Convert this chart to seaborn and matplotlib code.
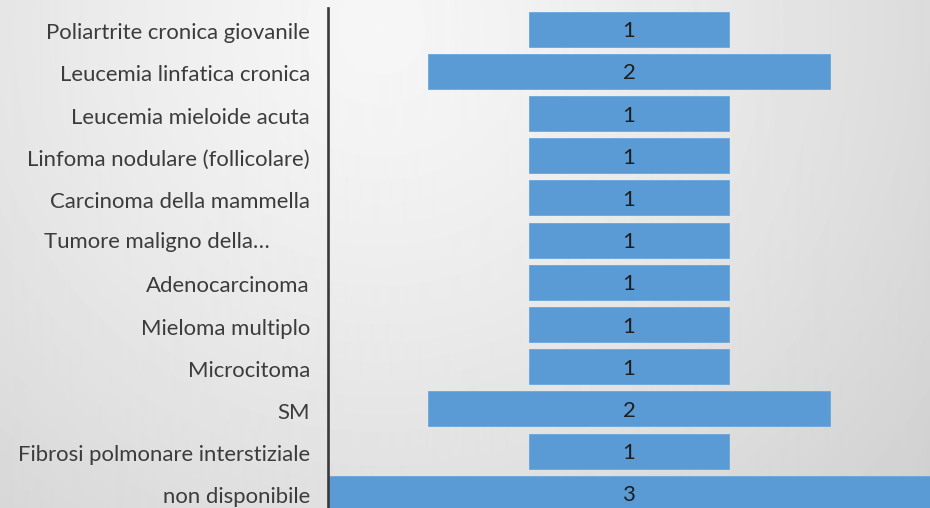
import numpy as np
import pandas as pd
import matplotlib
matplotlib.use("Agg")
import matplotlib.pyplot as plt
import matplotlib.transforms as mtransforms
import seaborn as sns

# Diagnoses and number of cases for each one
categories = [
    "Poliartrite cronica giovanile",
    "Leucemia linfatica cronica",
    "Leucemia mieloide acuta",
    "Linfoma nodulare (follicolare)",
    "Carcinoma della mammella",
    "Tumore maligno della…",
    "Adenocarcinoma",
    "Mieloma multiplo",
    "Microcitoma",
    "SM",
    "Fibrosi polmonare interstiziale",
    "non disponibile",
]
counts = [1, 2, 1, 1, 1, 1, 1, 1, 1, 2, 1, 3]

BAR_COLOR = "#5b9bd5"
TEXT_COLOR = "#3c3c3c"
FONT = "Lato"
FS = 15.9

df = pd.DataFrame({"diagnosi": categories, "casi": counts})

sns.set_theme(style="white")
plt.rcParams["font.family"] = [FONT, "DejaVu Sans"]

W, H, DPI = 930, 508, 100
fig = plt.figure(figsize=(W / DPI, H / DPI), dpi=DPI)

# Soft radial grey background
bg = fig.add_axes([0, 0, 1, 1], zorder=-10)
yy, xx = np.mgrid[0:H, 0:W]
d = np.hypot(xx - 380, yy - 30)
shade = np.clip(0.965 - 2.9e-5 * d ** 1.3, 0, 1)
bg.imshow(shade, cmap="gray", vmin=0, vmax=1, aspect="auto",
          extent=(0, W, H, 0), interpolation="bilinear")
bg.set_axis_off()

# Plot area: rows of 42.2 px starting 8 px below the top edge
row_px = 42.2
top_px = 8
left_px = 328
ax_h = 12 * row_px
ax = fig.add_axes([left_px / W, (H - top_px - ax_h) / H,
                   (W - left_px) / W, ax_h / H])
ax.set_facecolor("none")

sns.barplot(data=df, x="casi", y="diagnosi", orient="h", ax=ax,
            color=BAR_COLOR, saturation=1, width=0.83,
            edgecolor="#6aa6dc", linewidth=0.6, errorbar=None)

# Centre each bar on zero, funnel style
for patch in ax.patches:
    w = patch.get_width()
    patch.set_x(-w / 2)

ax.set_xlim(-1.5, 1.5)
ax.set_ylim(len(categories) - 0.5, -0.5)
ax.set_xlabel("")
ax.set_ylabel("")
ax.set_xticks([])

# Text sits a touch below the row centre
NUDGE_PT = 1.5
nudge = mtransforms.ScaledTranslation(0, -NUDGE_PT / 72, fig.dpi_scale_trans)

value_texts = ax.bar_label(ax.containers[0], labels=[str(v) for v in counts],
                           label_type="center", fontsize=FS, color="#1e1e1e",
                           family=[FONT, "DejaVu Sans"])
for t in value_texts:
    t.xyann = (0, -NUDGE_PT)

ax.tick_params(axis="y", length=0, pad=13, labelsize=FS,
               labelcolor=TEXT_COLOR)
for lbl in ax.get_yticklabels():
    lbl.set_fontfamily([FONT, "DejaVu Sans"])
    lbl.set_transform(lbl.get_transform() + nudge)

# The truncated label sits flush left with the longest ones
trunc_idx = categories.index("Tumore maligno della…")
ax.get_yticklabels()[trunc_idx].set_visible(False)
trans = mtransforms.blended_transform_factory(fig.transFigure, ax.transData)
ax.text(44 / W, trunc_idx, categories[trunc_idx], transform=trans + nudge,
        ha="left", va="center", fontsize=FS, color=TEXT_COLOR,
        family=[FONT, "DejaVu Sans"])

for side in ("top", "right", "bottom"):
    ax.spines[side].set_visible(False)
ax.spines["left"].set_color("#3a3a3a")
ax.spines["left"].set_linewidth(1.9)

fig.savefig("out.png", dpi=DPI)
